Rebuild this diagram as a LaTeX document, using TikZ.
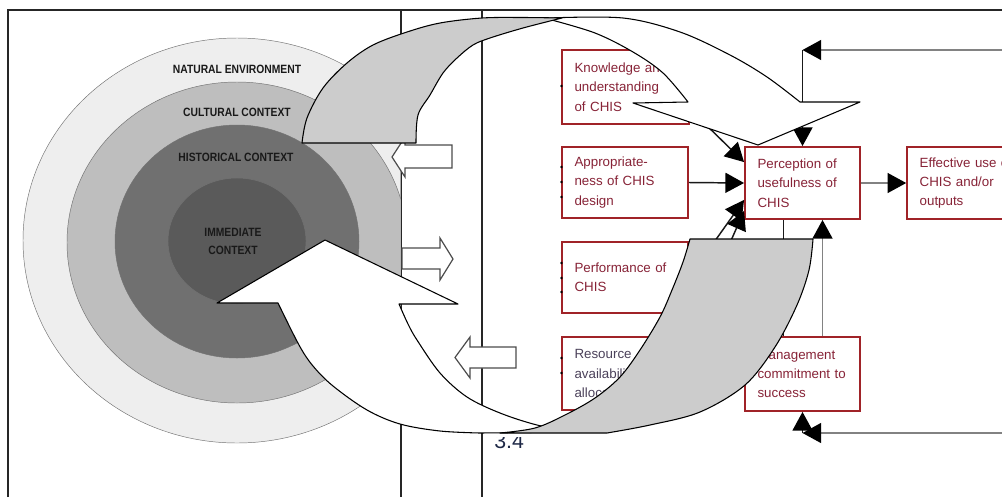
\documentclass[tikz,border=0pt]{standalone}
\usepackage{fontspec}
\setmainfont{Liberation Sans}
\newfontfamily\ringfont[FakeStretch=0.86]{Liberation Sans}
\usetikzlibrary{arrows.meta,calc}
\definecolor{boxred}{RGB}{160,35,40}
\definecolor{boxtxt}{RGB}{135,35,55}
\definecolor{restxt}{RGB}{75,65,90}
\definecolor{ringA}{RGB}{238,238,238}
\definecolor{ringB}{RGB}{190,190,190}
\definecolor{ringC}{RGB}{112,112,112}
\definecolor{ringD}{RGB}{90,90,90}
\definecolor{arrgray}{RGB}{204,204,204}
\definecolor{lnk}{RGB}{130,130,130}
\definecolor{numtxt}{RGB}{30,40,70}
\begin{document}
\begin{tikzpicture}[x=0.75pt,y=-0.75pt,
  frame/.style={draw=black!85, line width=0.9pt},
  ring/.style={draw=black!55, line width=0.35pt},
  ringlbl/.style={font=\ringfont\bfseries\fontsize{9}{13.5}\selectfont, align=center, inner sep=0pt, text=black!90},
  blockarr/.style={fill=white, draw=black!70, line width=0.9pt, line join=miter},
  chis/.style={draw=boxred, line width=1.4pt, fill=white, text=boxtxt, font=\fontsize{10}{14.5}\selectfont, align=left, inner ysep=0pt, inner xsep=9.4pt},
  conn/.style={draw=black!90, line width=1.1pt},
  gconn/.style={draw=lnk, line width=1.1pt},
  bigtip/.style={-{Triangle[length=14pt,width=15pt,color=black]}},
  bigw/.style={fill=white, draw=black, line width=0.8pt, line join=round},
  bigg/.style={fill=arrgray, draw=black, line width=0.8pt, line join=round}]
\useasboundingbox (0,0) rectangle (1002,497);
\clip (0,0) rectangle (1002,497);

% frame lines
\draw[frame] (8,497) -- (8,10) -- (1010,10);
\draw[frame] (401,10) -- (401,497);
\draw[frame] (482,10) -- (482,497);

% concentric contexts
\begin{scope}
\clip (0,0) rectangle (400.5,497);
\draw[ring, fill=ringA] (237,240.5) ellipse [x radius=214, y radius=202.5];
\draw[ring, fill=ringB] (237,242.5) ellipse [x radius=170, y radius=160.5];
\draw[ring, fill=ringC] (237,241.5) ellipse [x radius=122, y radius=116.5];
\draw[ring, fill=ringD] (237,241) ellipse [x radius=69, y radius=63];
\end{scope}
\node[ringlbl] (nat) at (237,69) {NATURAL ENVIRONMENT};
\node[ringlbl] (cul) at (237,112.5) {CULTURAL CONTEXT};
\node[ringlbl] (his) at (236,157.5) {HISTORICAL CONTEXT};
\node[ringlbl] (imm) at (233,241) {IMMEDIATE\\CONTEXT};

% small block arrows
\draw[blockarr] (392,157) -- (405,137) -- (405,145) -- (452,145) -- (452,168) -- (405,168) -- (405,177) -- cycle;
\draw[blockarr] (453,259) -- (440,238) -- (440,248) -- (402,248) -- (402,269) -- (440,269) -- (440,280) -- cycle;
\draw[blockarr] (455,357.5) -- (470,337) -- (470,347) -- (516,347) -- (516,368) -- (470,368) -- (470,378) -- cycle;

% CHIS boxes
\node[chis, text width=76.4pt, minimum height=55.5pt] (know) at (625.5,87) {Knowledge and\\understanding\\of CHIS};
\node[chis, text width=75.7pt, minimum height=53.25pt] (appr) at (625,182.5) {Appropriate-\\ness of CHIS\\design};
\node[chis, text width=75.7pt, minimum height=53.25pt] (perf) at (625,277.5) {Performance of\\CHIS};
\node[chis, text width=75.7pt, minimum height=54.75pt, text=restxt] (res) at (625,373.5) {Resource\\availability/\\allocation};
\node[chis, text width=67.45pt, minimum height=54pt] (perc) at (802.5,183) {Perception of\\usefulness of\\CHIS};
\node[chis, text width=67.45pt, minimum height=55.5pt] (mgmt) at (802.5,374) {Management\\commitment to\\success};
\node[chis, text width=80pt, minimum height=54pt] (eff) at (973,183) {Effective use of\\CHIS and/or\\outputs};

% small marks on box edges
\foreach \yy in {86,167,182,197,263,278,292,358,373} {\fill (561.5,\yy) circle [radius=1.3];}

% connectors
\draw[conn,bigtip] ($(know.south east)+(8,-8)$) -- ($(perc.north west)+(0,16)$);
\draw[conn,bigtip] (appr.east) -- (perc.west);
\draw[conn,bigtip] (perf.east) -- ($(perc.south west)+(0,-20)$);
\draw[conn,bigtip] (res.north east) -- ($(perc.south west)+(0,-9)$);
\draw[conn] ($(mgmt.north)+(-19,0)$) -- ($(perc.south)+(-19,0)$);
\draw[gconn,bigtip] ($(mgmt.north)+(20,0)$) -- ($(perc.south)+(20,0)$);
\draw[gconn,bigtip] (perc.east) -- (eff.west);
\coordinate (fbT) at (1010,50);
\coordinate (fbTc) at (802.5,50);
\draw[gconn,bigtip] (fbT) -- (fbTc);
\draw[conn,bigtip] (fbTc) -- (perc.north);
\coordinate (fbB) at (1010,433);
\coordinate (fbBc) at (802.5,433);
\draw[gconn,bigtip] (fbB) -- (fbBc);
\draw[conn,bigtip] (fbBc) -- (mgmt.south);

% section number, partly hidden
\begin{scope}
\clip (485,437) rectangle (545,470);
\node[anchor=base west, inner sep=0pt, font=\fontsize{16}{18}\selectfont, text=numtxt] (sec) at (494,448) {3.4};
\end{scope}

% lower big arrow: white part
\path[bigw] (217,303) -- (325,240) -- (458,304) -- (399,304)
  -- plot[smooth,tension=0.55] coordinates {(399,304) (408,324) (417,340) (440,373) (467,397) (500,413) (537,425) (575,432)}
  -- (480,433)
  -- plot[smooth,tension=0.55] coordinates {(480,433) (440,431) (400,424) (367,410) (333,386) (313,366) (299,345) (278,303)}
  -- cycle;
% lower big arrow: gray part
\path[bigg] (500,433) -- (607,433)
  -- plot[smooth,tension=0.55] coordinates {(607,433) (650,425) (700,412) (745,385) (775,347) (797,305) (809,270) (813,239)}
  -- (690,239)
  -- plot[smooth,tension=0.55] coordinates {(690,239) (683,262) (672,290) (660,317) (640,350) (620,377) (595,398) (565,415) (535,428) (500,433)}
  -- cycle;

% upper big arrow: white part
\path[bigw] plot[smooth,tension=0.55] coordinates {(548,18) (623,18) (680,32) (730,55) (767,77) (800,102)}
  -- (860,102) -- (758,145) -- (633,103) -- (688,102)
  -- plot[smooth,tension=0.55] coordinates {(688,102) (663,73) (633,52) (595,33) (548,19)}
  -- cycle;
% upper big arrow: gray part
\path[bigg] (302,143)
  -- plot[smooth,tension=0.55] coordinates {(302,143) (307,118) (323,88) (347,63) (373,45) (407,32) (440,23) (482,18) (522,17.5) (562,18)}
  -- plot[smooth,tension=0.55] coordinates {(562,18) (523,28) (490,38) (473,45) (457,58) (443,73) (430,95) (418,115) (416,143)}
  -- cycle;
\end{tikzpicture}
\end{document}
